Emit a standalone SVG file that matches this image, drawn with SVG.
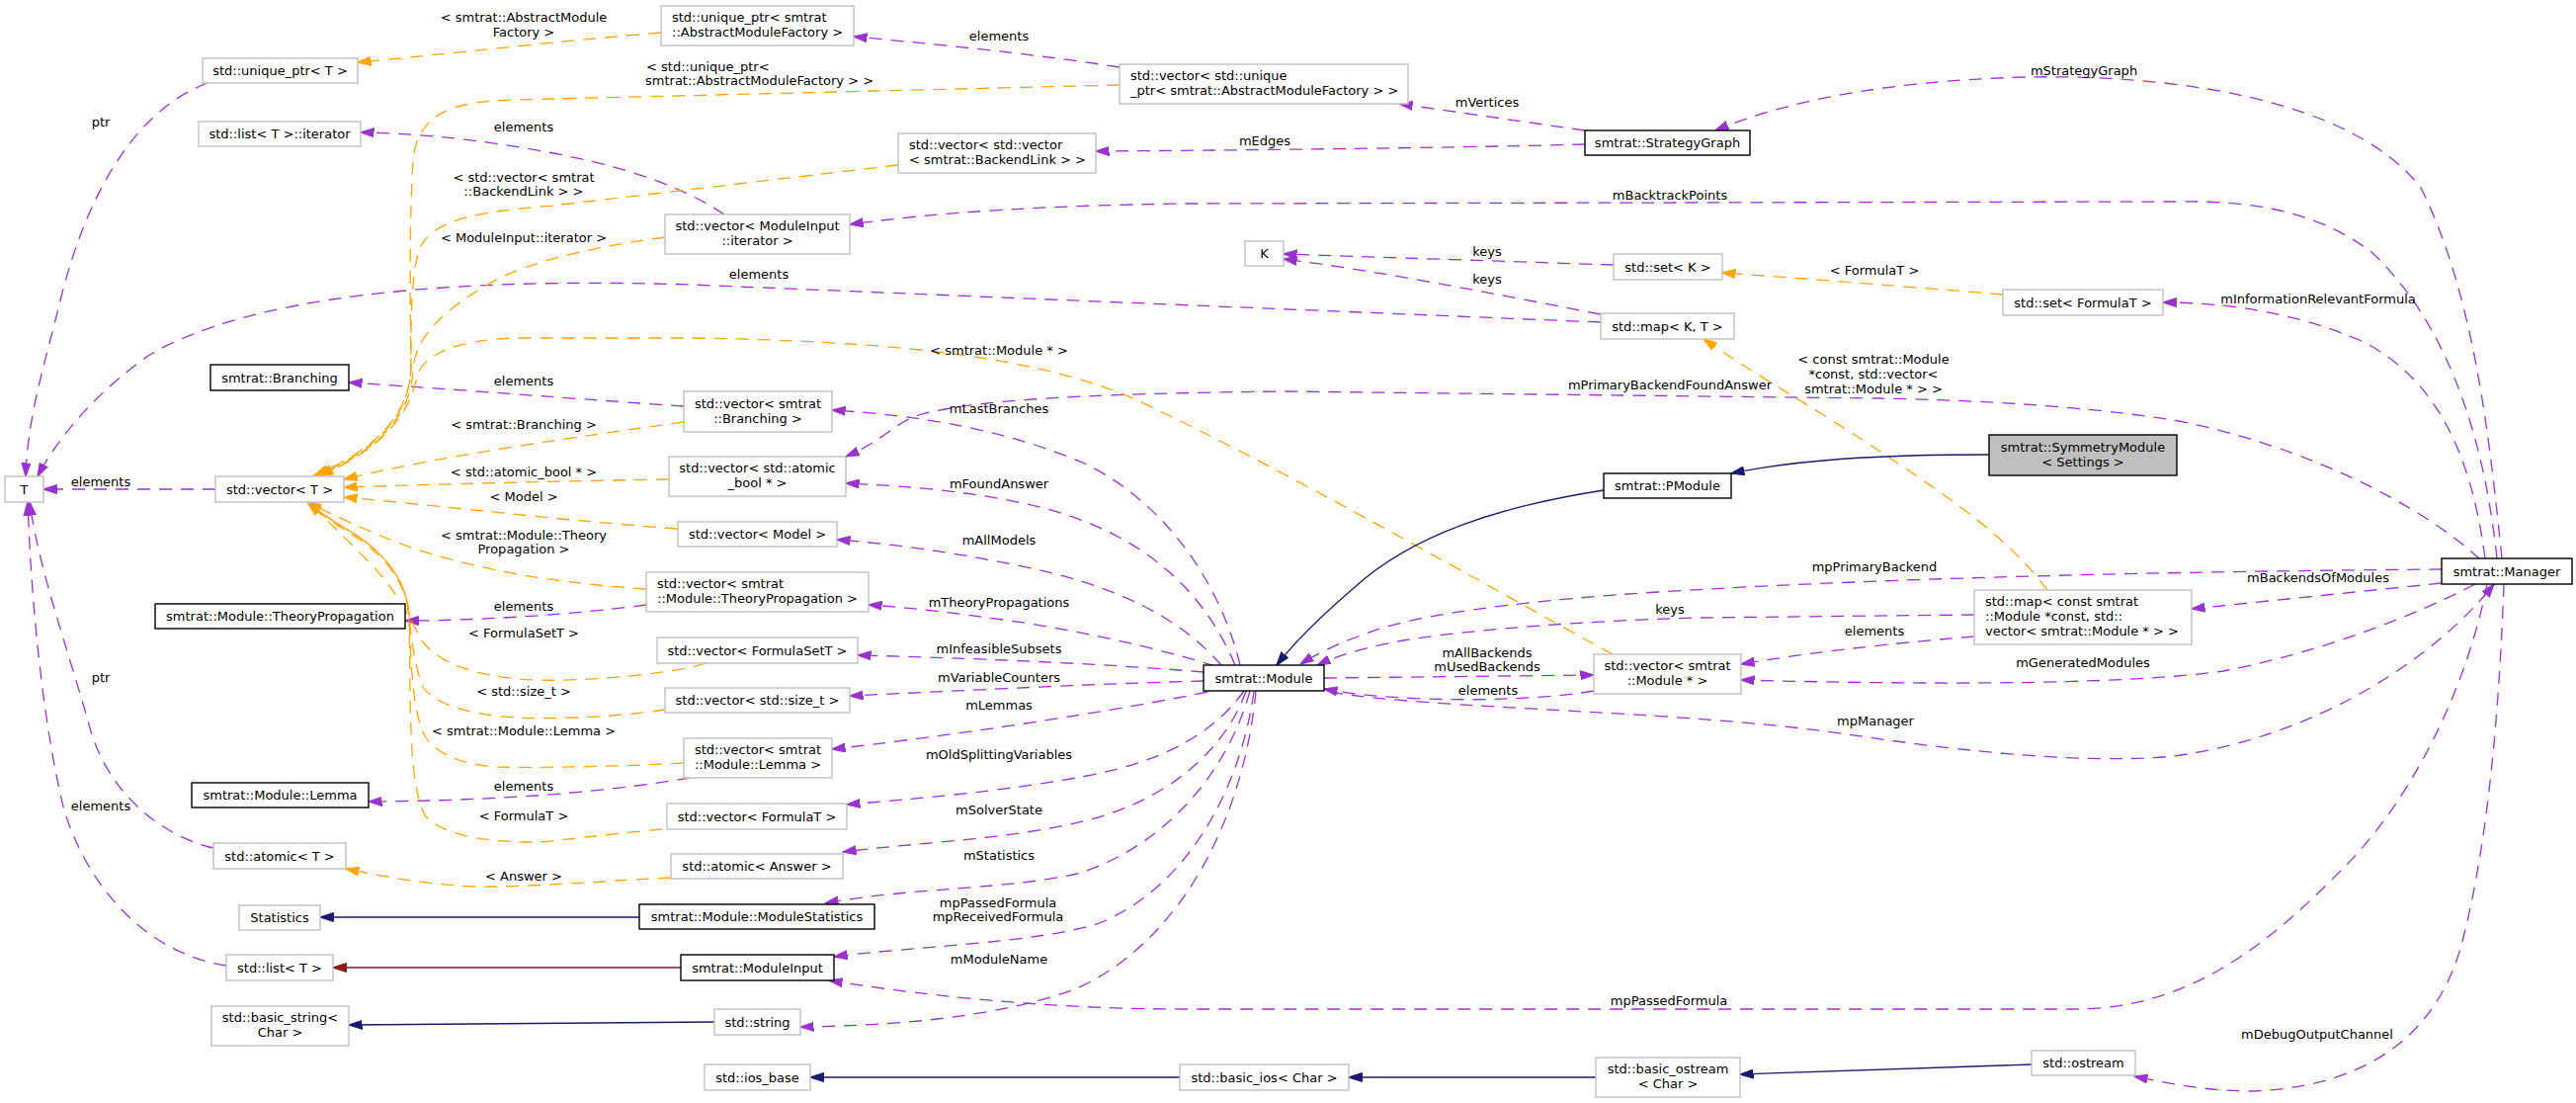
<svg xmlns="http://www.w3.org/2000/svg" width="2607" height="1116" viewBox="0 0 2607 1116">
<style>
text{font-family:'DejaVu Sans',sans-serif;font-size:13px;fill:#000}
.c{text-anchor:middle}
.s{text-anchor:start}
.u{fill:#fff;stroke:#bfbfbf;stroke-width:1.4}
.d{fill:#fff;stroke:#000;stroke-width:1.4}
.root{fill:#bfbfbf;stroke:#000;stroke-width:1.4}
.p{fill:none;stroke:#9a32cd;stroke-width:1.3;stroke-dasharray:13,9;marker-end:url(#ap)}
.o{fill:none;stroke:#ffa500;stroke-width:1.3;stroke-dasharray:13,9;marker-end:url(#ao)}
.b{fill:none;stroke:#191970;stroke-width:1.3;marker-end:url(#ab)}
.r{fill:none;stroke:#8b1a1a;stroke-width:1.3;marker-end:url(#ar)}
</style>
<defs>
<marker id="ap" viewBox="0 0 14 10" refX="13.5" refY="5" markerWidth="14" markerHeight="10" markerUnits="userSpaceOnUse" orient="auto"><path d="M0,0.5L14,5L0,9.5z" fill="#9a32cd" stroke="#9a32cd" stroke-width="1"/></marker>
<marker id="ao" viewBox="0 0 14 10" refX="13.5" refY="5" markerWidth="14" markerHeight="10" markerUnits="userSpaceOnUse" orient="auto"><path d="M0,0.5L14,5L0,9.5z" fill="#ffa500" stroke="#ffa500" stroke-width="1"/></marker>
<marker id="ab" viewBox="0 0 14 10" refX="13.5" refY="5" markerWidth="14" markerHeight="10" markerUnits="userSpaceOnUse" orient="auto"><path d="M0,0.5L14,5L0,9.5z" fill="#191970" stroke="#191970" stroke-width="1"/></marker>
<marker id="ar" viewBox="0 0 14 10" refX="13.5" refY="5" markerWidth="14" markerHeight="10" markerUnits="userSpaceOnUse" orient="auto"><path d="M0,0.5L14,5L0,9.5z" fill="#8b1a1a" stroke="#8b1a1a" stroke-width="1"/></marker>
</defs>
<rect width="2607" height="1116" fill="#fff"/>

<g id="connectors">
<!-- purple usage edges -->
<path class="p" d="M210,84 C140,110 90,190 62,300 C45,370 28,420 26,482"/>
<path class="p" d="M1620,326 L700,288 C450,280 250,300 150,360 C100,395 60,440 38,482"/>
<path class="p" d="M216,858 C160,845 110,800 92,740 C70,660 40,580 30,508"/>
<path class="p" d="M229,977 C150,965 90,900 65,820 C45,740 32,620 28,508"/>
<path class="p" d="M218,495 L44,495"/>
<path class="p" d="M733,217 C700,195 650,172 560,155 C480,140 420,135 365,134"/>
<path class="p" d="M1133,68 C1050,55 950,45 864,37"/>
<path class="p" d="M1604,132 L1416,105"/>
<path class="p" d="M1604,146 C1450,150 1250,152 1109,153"/>
<path class="p" d="M2532,565 C2520,450 2505,300 2450,190 C2380,100 2200,75 2050,78 C1900,82 1800,105 1736,132"/>
<path class="p" d="M2527,565 C2515,450 2480,330 2400,255 C2340,210 2270,203 2200,204 L1200,206 C1050,208 950,215 860,227"/>
<path class="p" d="M2515,565 C2500,450 2460,380 2390,345 C2320,315 2250,306 2189,306"/>
<path class="p" d="M2510,566 C2450,510 2330,450 2200,425 C2100,410 2000,405 1900,403 L1300,396 C1100,398 980,405 930,420 C905,428 895,445 856,462"/>
<path class="p" d="M1255,673 C1235,590 1180,510 1100,470 C1020,435 930,420 842,415"/>
<path class="p" d="M1250,673 C1215,590 1150,540 1060,515 C990,497 920,492 856,489"/>
<path class="p" d="M1236,673 C1190,620 1120,590 1030,572 C960,558 900,550 847,546"/>
<path class="p" d="M1230,674 C1170,655 1080,635 1000,625 C950,618 910,614 879,612"/>
<path class="p" d="M1218,680 C1100,670 950,665 868,663"/>
<path class="p" d="M1218,689 C1100,692 950,700 860,704"/>
<path class="p" d="M1222,700 C1150,715 1000,740 842,758"/>
<path class="p" d="M1259,699 C1230,740 1180,770 1100,785 C1020,800 930,808 857,814"/>
<path class="p" d="M1261,699 C1240,760 1180,810 1100,830 C1020,850 930,852 853,862"/>
<path class="p" d="M1265,699 C1240,790 1170,860 1090,884 C1020,900 920,898 835,914"/>
<path class="p" d="M1269,700 C1255,800 1200,900 1110,935 C1040,955 930,957 844,968"/>
<path class="p" d="M1271,699 C1260,820 1200,950 1090,1000 C1010,1030 900,1038 810,1039"/>
<path class="p" d="M2517,591 C2500,680 2450,800 2370,880 C2300,950 2220,1021 2100,1021 L1200,1021 C1050,1021 920,1005 839,992"/>
<path class="p" d="M2534,591 C2530,700 2520,850 2490,960 C2460,1060 2380,1100 2280,1104 C2230,1104 2190,1095 2160,1089"/>
<path class="p" d="M1346,700 C1450,718 1700,718 1870,743 C1950,755 2100,775 2200,765 C2350,745 2470,660 2524,591"/>
<path class="p" d="M2471,576 C2200,578 1900,585 1678,599 C1550,607 1450,620 1400,635 C1360,648 1335,660 1316,672"/>
<path class="p" d="M1998,622 L1720,625 C1600,628 1480,638 1420,648 C1380,655 1350,665 1333,673"/>
<path class="p" d="M1998,644 C1900,652 1820,662 1762,672"/>
<path class="p" d="M2471,590 L2218,616"/>
<path class="p" d="M2505,591 C2450,620 2350,660 2250,679 C2150,693 1950,693 1762,688"/>
<path class="p" d="M1340,686 L1613,683"/>
<path class="p" d="M1613,699 C1550,710 1420,712 1340,697"/>
<path class="p" d="M1633,268 L1299,257"/>
<path class="p" d="M1620,318 C1500,295 1400,275 1299,262"/>
<path class="p" d="M692,411 C600,405 450,393 353,387"/>
<path class="p" d="M654,612 C580,622 480,628 410,628"/>
<path class="p" d="M698,787 C620,800 520,810 373,811"/>
<!-- orange template edges -->
<path class="o" d="M669,33 C560,42 450,55 362,63"/>
<path class="o" d="M1133,86 L520,101 C455,103 430,115 420,150 C414,180 415,300 416,370 C415,420 380,455 318,481"/>
<path class="o" d="M909,167 L560,208 C470,215 440,225 425,250 C415,280 416,330 416,370 C415,420 382,455 320,481"/>
<path class="o" d="M673,240 C600,250 530,265 490,290 C440,320 420,345 418,375 C415,420 385,455 322,481"/>
<path class="o" d="M1632,662 C1500,590 1300,475 1151,405 C1050,360 900,345 700,342 L520,342 C460,345 430,358 422,380 C415,420 385,455 324,481"/>
<path class="o" d="M692,427 C600,440 450,460 348,485"/>
<path class="o" d="M677,485 C550,487 450,490 348,493"/>
<path class="o" d="M686,535 C550,525 450,512 348,503"/>
<path class="o" d="M654,596 C560,590 470,575 400,548 C360,532 330,518 312,508"/>
<path class="o" d="M714,671 C690,680 600,690 540,688 C480,685 440,670 425,645 C410,615 395,590 370,565 C345,540 325,520 312,509"/>
<path class="o" d="M673,718 C620,726 560,728 520,726 C470,722 440,712 428,695 C418,670 416,640 412,610 C405,580 380,555 355,540 C335,528 322,518 312,509"/>
<path class="o" d="M692,772 C620,776 540,777 500,776 C460,772 440,760 430,745 C418,720 416,680 414,620 C410,580 380,553 355,538 C335,526 322,517 312,509"/>
<path class="o" d="M692,837 C600,845 560,852 540,852 C480,852 445,842 430,825 C418,800 416,760 415,700 L414,620 C410,580 380,553 355,538 C335,526 322,517 312,509"/>
<path class="o" d="M679,888 C600,892 530,898 480,897 C420,894 380,885 350,879"/>
<path class="o" d="M2027,298 C1930,290 1830,282 1743,276"/>
<path class="o" d="M2072,597 C2030,540 1960,495 1900,455 C1840,415 1770,375 1724,343"/>
<!-- inheritance -->
<path class="b" d="M2013,460 C1900,460 1820,465 1752,479"/>
<path class="b" d="M1623,496 C1520,512 1430,540 1370,595 C1335,625 1310,650 1292,673"/>
<path class="b" d="M647,928 L324,928"/>
<path class="b" d="M723,1034 L353,1037"/>
<path class="b" d="M1194,1090 L820,1090"/>
<path class="b" d="M1615,1090 L1365,1090"/>
<path class="b" d="M2056,1077 L1761,1087"/>
<path class="r" d="M689,979 L337,979"/>

<!-- edge labels -->
<text class="c" x="102" y="127.5">ptr</text>
<text class="c" x="530" y="21.5">&lt; smtrat::AbstractModule</text>
<text class="c" x="530" y="36.5">Factory &gt;</text>
<text class="c" x="530" y="132.5">elements</text>
<text class="c" x="530" y="183.5">&lt; std::vector&lt; smtrat</text>
<text class="c" x="530" y="197.5">::BackendLink &gt; &gt;</text>
<text class="c" x="530" y="244.5">&lt; ModuleInput::iterator &gt;</text>
<text class="c" x="1011" y="40.5">elements</text>
<text class="s" x="654" y="71.5">&lt; std::unique_ptr&lt;</text>
<text class="s" x="653" y="85.5">smtrat::AbstractModuleFactory &gt; &gt;</text>
<text class="c" x="1280" y="146.5">mEdges</text>
<text class="c" x="768" y="281.5">elements</text>
<text class="c" x="1011" y="358.5">&lt; smtrat::Module * &gt;</text>
<text class="c" x="1505" y="107.5">mVertices</text>
<text class="c" x="1690" y="201.5">mBacktrackPoints</text>
<text class="c" x="1505" y="258.5">keys</text>
<text class="c" x="1505" y="286.5">keys</text>
<text class="c" x="1897" y="277.5">&lt; FormulaT &gt;</text>
<text class="c" x="2109" y="75.5">mStrategyGraph</text>
<text class="c" x="2346" y="306.5">mInformationRelevantFormula</text>
<text class="c" x="1896" y="367.5">&lt; const smtrat::Module</text>
<text class="c" x="1896" y="382.5">*const, std::vector&lt;</text>
<text class="c" x="1896" y="397.5">smtrat::Module * &gt; &gt;</text>
<text class="c" x="1690" y="393.5">mPrimaryBackendFoundAnswer</text>
<text class="c" x="102" y="491.5">elements</text>
<text class="c" x="530" y="389.5">elements</text>
<text class="c" x="530" y="433.5">&lt; smtrat::Branching &gt;</text>
<text class="c" x="530" y="481.5">&lt; std::atomic_bool * &gt;</text>
<text class="c" x="530" y="506.5">&lt; Model &gt;</text>
<text class="c" x="530" y="545.5">&lt; smtrat::Module::Theory</text>
<text class="c" x="530" y="559.5">Propagation &gt;</text>
<text class="c" x="530" y="617.5">elements</text>
<text class="c" x="530" y="644.5">&lt; FormulaSetT &gt;</text>
<text class="c" x="102" y="689.5">ptr</text>
<text class="c" x="530" y="703.5">&lt; std::size_t &gt;</text>
<text class="c" x="530" y="743.5">&lt; smtrat::Module::Lemma &gt;</text>
<text class="c" x="1011" y="417.5">mLastBranches</text>
<text class="c" x="1011" y="493.5">mFoundAnswer</text>
<text class="c" x="1011" y="550.5">mAllModels</text>
<text class="c" x="1011" y="613.5">mTheoryPropagations</text>
<text class="c" x="1011" y="660.5">mInfeasibleSubsets</text>
<text class="c" x="1011" y="689.5">mVariableCounters</text>
<text class="c" x="1011" y="717.5">mLemmas</text>
<text class="c" x="1897" y="577.5">mpPrimaryBackend</text>
<text class="c" x="1690" y="620.5">keys</text>
<text class="c" x="1897" y="642.5">elements</text>
<text class="c" x="1505" y="664.5">mAllBackends</text>
<text class="c" x="1505" y="678.5">mUsedBackends</text>
<text class="c" x="1506" y="702.5">elements</text>
<text class="c" x="1898" y="733.5">mpManager</text>
<text class="c" x="2346" y="588.5">mBackendsOfModules</text>
<text class="c" x="2108" y="674.5">mGeneratedModules</text>
<text class="c" x="530" y="799.5">elements</text>
<text class="c" x="530" y="829.5">&lt; FormulaT &gt;</text>
<text class="c" x="102" y="819.5">elements</text>
<text class="c" x="530" y="890.5">&lt; Answer &gt;</text>
<text class="c" x="1011" y="767.5">mOldSplittingVariables</text>
<text class="c" x="1011" y="823.5">mSolverState</text>
<text class="c" x="1011" y="869.5">mStatistics</text>
<text class="c" x="1010" y="917.5">mpPassedFormula</text>
<text class="c" x="1010" y="931.5">mpReceivedFormula</text>
<text class="c" x="1011" y="974.5">mModuleName</text>
<text class="c" x="1689" y="1016.5">mpPassedFormula</text>
<text class="c" x="2345" y="1050.5">mDebugOutputChannel</text>
</g>

<g id="n1"><rect class="u" x="205" y="59" width="157" height="25"/><text class="c" x="283.5" y="76">std::unique_ptr&lt; T &gt;</text></g>
<g id="n2"><rect class="u" x="201" y="123" width="164" height="25"/><text class="c" x="283" y="140">std::list&lt; T &gt;::iterator</text></g>
<g id="n3"><rect class="u" x="669" y="6" width="195" height="40"/><text class="s" x="680" y="22">std::unique_ptr&lt; smtrat</text><text class="s" x="680" y="37">::AbstractModuleFactory &gt;</text></g>
<g id="n4"><rect class="u" x="1133" y="65" width="292" height="40"/><text class="s" x="1144" y="81">std::vector&lt; std::unique</text><text class="s" x="1144" y="96">_ptr&lt; smtrat::AbstractModuleFactory &gt; &gt;</text></g>
<g id="n5"><rect class="u" x="909" y="135" width="200" height="40"/><text class="s" x="920" y="151">std::vector&lt; std::vector</text><text class="s" x="920" y="166">&lt; smtrat::BackendLink &gt; &gt;</text></g>
<g id="n6"><rect class="u" x="673" y="217" width="187" height="40"/><text class="c" x="766.5" y="233">std::vector&lt; ModuleInput</text><text class="c" x="766.5" y="248">::iterator &gt;</text></g>
<g id="n7"><rect class="u" x="1260" y="244" width="39" height="25"/><text class="c" x="1279.5" y="261">K</text></g>
<g id="n8"><rect class="d" x="1604" y="132" width="167" height="25"/><text class="c" x="1687.5" y="149">smtrat::StrategyGraph</text></g>
<g id="n9"><rect class="u" x="1633" y="257" width="110" height="26"/><text class="c" x="1688" y="274.5">std::set&lt; K &gt;</text></g>
<g id="n10"><rect class="u" x="1620" y="317" width="135" height="26"/><text class="c" x="1687.5" y="334.5">std::map&lt; K, T &gt;</text></g>
<g id="n11"><rect class="u" x="2027" y="293" width="162" height="26"/><text class="c" x="2108" y="310.5">std::set&lt; FormulaT &gt;</text></g>
<g id="n12"><rect class="d" x="213" y="369" width="140" height="26"/><text class="c" x="283" y="386.5">smtrat::Branching</text></g>
<g id="n13"><rect class="u" x="692" y="396" width="150" height="41"/><text class="c" x="767" y="412.5">std::vector&lt; smtrat</text><text class="c" x="767" y="427.5">::Branching &gt;</text></g>
<g id="n14"><rect class="u" x="5" y="482" width="39" height="26"/><text class="c" x="24.5" y="499.5">T</text></g>
<g id="n15"><rect class="u" x="218" y="482" width="130" height="26"/><text class="c" x="283" y="499.5">std::vector&lt; T &gt;</text></g>
<g id="n16"><rect class="u" x="677" y="462" width="179" height="40"/><text class="c" x="766.5" y="478">std::vector&lt; std::atomic</text><text class="c" x="766.5" y="493">_bool * &gt;</text></g>
<g id="n17"><rect class="d" x="1623" y="479" width="129" height="25"/><text class="c" x="1687.5" y="496">smtrat::PModule</text></g>
<g id="n18"><rect class="root" x="2013" y="440" width="190" height="41"/><text class="c" x="2108" y="456.5">smtrat::SymmetryModule</text><text class="c" x="2108" y="471.5">&lt; Settings &gt;</text></g>
<g id="n19"><rect class="u" x="686" y="528" width="161" height="25"/><text class="c" x="766.5" y="545">std::vector&lt; Model &gt;</text></g>
<g id="n20"><rect class="d" x="2471" y="565" width="132" height="26"/><text class="c" x="2537" y="582.5">smtrat::Manager</text></g>
<g id="n21"><rect class="u" x="654" y="579" width="225" height="40"/><text class="s" x="665" y="595">std::vector&lt; smtrat</text><text class="s" x="665" y="610">::Module::TheoryPropagation &gt;</text></g>
<g id="n22"><rect class="u" x="1998" y="597" width="220" height="55"/><text class="s" x="2009" y="613">std::map&lt; const smtrat</text><text class="s" x="2009" y="628">::Module *const, std::</text><text class="s" x="2009" y="642.5">vector&lt; smtrat::Module * &gt; &gt;</text></g>
<g id="n23"><rect class="d" x="157" y="611" width="253" height="25"/><text class="c" x="283.5" y="628">smtrat::Module::TheoryPropagation</text></g>
<g id="n24"><rect class="u" x="665" y="645" width="203" height="26"/><text class="c" x="766.5" y="662.5">std::vector&lt; FormulaSetT &gt;</text></g>
<g id="n25"><rect class="d" x="1218" y="673" width="122" height="26"/><text class="c" x="1279" y="690.5">smtrat::Module</text></g>
<g id="n26"><rect class="u" x="1613" y="662" width="149" height="40"/><text class="c" x="1687.5" y="678">std::vector&lt; smtrat</text><text class="c" x="1687.5" y="693">::Module * &gt;</text></g>
<g id="n27"><rect class="u" x="673" y="696" width="187" height="25"/><text class="c" x="766.5" y="713">std::vector&lt; std::size_t &gt;</text></g>
<g id="n28"><rect class="u" x="692" y="747" width="150" height="40"/><text class="c" x="767" y="763">std::vector&lt; smtrat</text><text class="c" x="767" y="778">::Module::Lemma &gt;</text></g>
<g id="n29"><rect class="d" x="194" y="792" width="179" height="25"/><text class="c" x="283.5" y="809">smtrat::Module::Lemma</text></g>
<g id="n30"><rect class="u" x="675" y="813" width="182" height="26"/><text class="c" x="766" y="830.5">std::vector&lt; FormulaT &gt;</text></g>
<g id="n31"><rect class="u" x="216" y="853" width="134" height="26"/><text class="c" x="283" y="870.5">std::atomic&lt; T &gt;</text></g>
<g id="n32"><rect class="u" x="679" y="864" width="174" height="25"/><text class="c" x="766" y="881">std::atomic&lt; Answer &gt;</text></g>
<g id="n33"><rect class="u" x="242" y="916" width="82" height="25"/><text class="c" x="283" y="933">Statistics</text></g>
<g id="n34"><rect class="d" x="647" y="915" width="238" height="25"/><text class="c" x="766" y="932">smtrat::Module::ModuleStatistics</text></g>
<g id="n35"><rect class="u" x="229" y="966" width="108" height="26"/><text class="c" x="283" y="983.5">std::list&lt; T &gt;</text></g>
<g id="n36"><rect class="d" x="689" y="966" width="155" height="26"/><text class="c" x="766.5" y="983.5">smtrat::ModuleInput</text></g>
<g id="n37"><rect class="u" x="214" y="1018" width="139" height="40"/><text class="c" x="283.5" y="1034">std::basic_string&lt;</text><text class="c" x="283.5" y="1049">Char &gt;</text></g>
<g id="n38"><rect class="u" x="723" y="1021" width="87" height="26"/><text class="c" x="766.5" y="1038.5">std::string</text></g>
<g id="n39"><rect class="u" x="713" y="1077" width="107" height="26"/><text class="c" x="766.5" y="1094.5">std::ios_base</text></g>
<g id="n40"><rect class="u" x="1194" y="1077" width="171" height="26"/><text class="c" x="1279.5" y="1094.5">std::basic_ios&lt; Char &gt;</text></g>
<g id="n41"><rect class="u" x="1615" y="1070" width="146" height="40"/><text class="c" x="1688" y="1086">std::basic_ostream</text><text class="c" x="1688" y="1101">&lt; Char &gt;</text></g>
<g id="n42"><rect class="u" x="2056" y="1063" width="105" height="25"/><text class="c" x="2108.5" y="1080">std::ostream</text></g>
</svg>
